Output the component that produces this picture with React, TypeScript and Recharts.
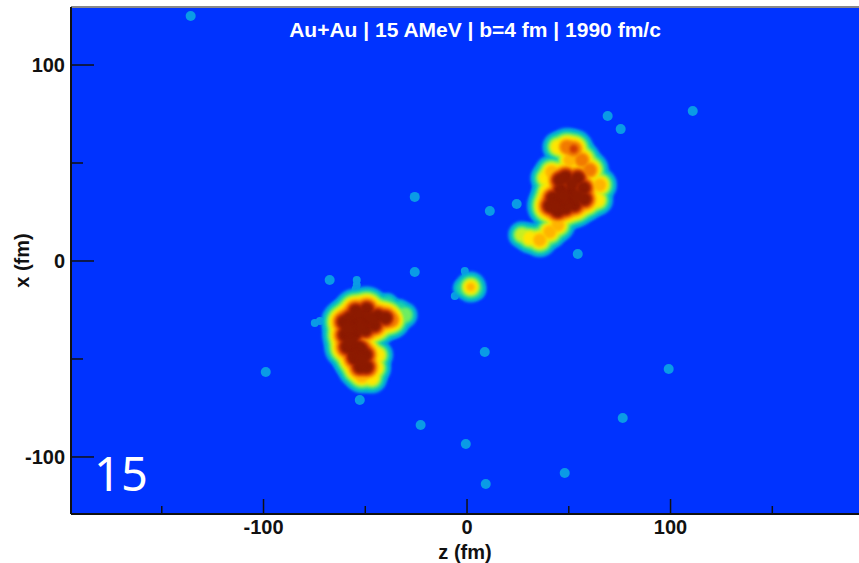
import { ScatterChart, Scatter, XAxis, YAxis, CartesianGrid, ReferenceLine } from 'recharts'

// [z (fm), x (fm), density level]
const lowerCluster = [
  [-54.7, -25.5, 10], [-49.3, -24.5, 10], [-43.9, -28.1, 10], [-40.0, -29.1, 10],
  [-60.6, -31.1, 10], [-60.1, -37.8, 10], [-59.1, -43.9, 10], [-55.2, -49.5, 10],
  [-52.7, -54.1, 10], [-49.3, -54.1, 10], [-49.8, -47.9, 10], [-54.2, -43.9, 10],
  [-55.2, -31.1, 10], [-49.8, -30.6, 10], [-45.4, -32.7, 10], [-54.7, -36.7, 10],
  [-49.8, -35.2, 10], [-57.7, -33.2, 10], [-56.7, -39.3, 10], [-55.7, -46.4, 10],
  [-57.7, -29.1, 10], [-52.7, -27.6, 10], [-47.5, -29.1, 10], [-52.7, -33.7, 10],
  [-58.6, -34.7, 10], [-57.7, -41.3, 10], [-52.2, -44.9, 10], [-54.7, -49.0, 10],
  [-51.7, -50.5, 10], [-37.0, -30.0, 8], [-30.6, -27.6, 4.5], [-33.1, -24.5, 3],
  [-39.0, -21.4, 3], [-43.9, -48.0, 6], [-46.8, -59.7, 6], [-44.9, -54.6, 6],
  [-51.7, -58.7, 7],
]

const upperCluster = [
  [48.5, 42.9, 10], [54.4, 42.3, 10], [57.3, 37.2, 10], [57.8, 31.6, 10],
  [52.9, 28.6, 10], [44.6, 25.5, 10], [40.6, 28.1, 10], [46.0, 36.2, 10],
  [51.0, 35.2, 10], [51.0, 31.1, 10], [44.6, 31.1, 10], [48.5, 27.0, 10],
  [51.5, 39.3, 10], [45.5, 41.3, 10], [54.4, 33.2, 10], [48.0, 28.6, 10],
  [42.1, 32.1, 10], [47.0, 33.2, 10], [43.1, 27.5, 10],
  [52.4, 57.1, 8.5], [49.0, 58.2, 8], [44.6, 58.2, 6], [56.4, 51.5, 8],
  [50.5, 51.5, 7], [60.3, 46.4, 8], [38.7, 42.3, 6], [41.6, 45.4, 7],
  [39.7, 36.2, 6], [65.2, 38.8, 7], [64.2, 31.1, 6], [26.9, 13.3, 5],
  [30.8, 11.7, 6], [35.7, 10.7, 7], [40.6, 14.8, 7], [44.6, 18.4, 7],
]

const centerCluster = [
  [1.8, -13.3, 6], [-2.1, -13.8, 3], [4.3, -14.8, 3],
]

// thin wisps hanging off the clusters
const wisps = [
  [-54.2, -9.7], [-54.2, -12.2], [-54.7, -14.3], [-74.8, -31.6], [-72.3, -30.6],
  [-1.1, -5.1], [-0.6, -7.7], [-0.2, -9.7], [-6.0, -17.9], [-4.1, -15.8],
]

const fragments = [
  [-135.8, 125.0], [69.1, 74.0], [75.5, 67.3], [110.9, 76.5], [-25.7, 32.7],
  [11.2, 25.5], [24.4, 29.1], [54.4, 3.6], [-25.7, -5.6], [-67.5, -9.7],
  [8.7, -46.4], [-98.9, -56.6], [-52.7, -70.9], [-22.8, -83.7], [-0.6, -93.4],
  [9.2, -113.8], [48.0, -108.2], [76.5, -80.1], [99.1, -55.1],
]

// small hot spots: [z, x, level]
const hotSpots = [
  [52.4, 57.1, 9], [1.8, -13.3, 7],
]

const levelColors = [
  '#0a9be6', '#00b6cf', '#1ed3a6', '#6eed62', '#c8f022',
  '#ffe600', '#ffb400', '#f27a00', '#cf3a00', '#8c1a00',
]

const zTicks = [-150, -100, -50, 0, 50, 100, 150]
const xTicks = [-100, -50, 0, 50, 100]

const BG = '#0033ff'
const FONT = '"Liberation Sans", Arial, sans-serif'
const SOFT = { filter: 'blur(1.8px)' }

const points = [...lowerCluster, ...upperCluster, ...centerCluster].map(([z, x, d]) => ({ z, x, d }))
const wispPoints = wisps.map(([z, x]) => ({ z, x }))
const fragmentPoints = fragments.map(([z, x]) => ({ z, x }))
const hotPoints = hotSpots.map(([z, x, d]) => ({ z, x, d }))

const ZTick = ({ x, y, payload }: any) => {
  const major = payload.value % 100 === 0
  return (
    <g>
      <line x1={x} x2={x} y1={y} y2={y - (major ? 15 : 8)} stroke="#111" strokeWidth={1.5} />
      {major && (
        <text x={x} y={y + 20} textAnchor="middle" fontSize={20} fontWeight="bold" fill="#111" fontFamily={FONT}>
          {payload.value}
        </text>
      )}
    </g>
  )
}

const XTick = ({ x, y, payload }: any) => {
  const major = payload.value % 100 === 0
  return (
    <g>
      <line x1={x} x2={x + (major ? 23 : 12)} y1={y} y2={y} stroke="#111" strokeWidth={1.5} />
      {major && (
        <text x={x - 6} y={y + 7} textAnchor="end" fontSize={20} fontWeight="bold" fill="#111" fontFamily={FONT}>
          {payload.value}
        </text>
      )}
    </g>
  )
}

export default function App() {
  return (
    <div style={{ position: 'absolute', left: 0, top: 0, width: 859, height: 563, overflow: 'hidden', background: '#fff' }}>
      <ScatterChart width={859} height={563} margin={{ top: 7, right: 0, bottom: 0, left: 0 }}>
        <CartesianGrid horizontal={false} vertical={false} fill={BG} />
        <Scatter
          data={fragmentPoints}
          isAnimationActive={false}
          shape={(p: any) => <circle cx={p.cx} cy={p.cy} r={5} fill={levelColors[0]} style={{ filter: 'blur(0.5px)' }} />}
        />
        <Scatter
          data={wispPoints}
          isAnimationActive={false}
          shape={(p: any) => <circle cx={p.cx} cy={p.cy} r={4} fill={levelColors[0]} style={{ filter: 'blur(0.5px)' }} />}
        />
        {levelColors.map((color, i) => {
          const level = i + 1
          return (
            <Scatter
              key={level}
              data={points.filter(p => p.d >= level)}
              isAnimationActive={false}
              shape={(p: any) => <circle cx={p.cx} cy={p.cy} r={6.5 + (p.payload.d - level) * 1.8} fill={color} style={SOFT} />}
            />
          )
        })}
        <Scatter
          data={hotPoints}
          isAnimationActive={false}
          shape={(p: any) => <circle cx={p.cx} cy={p.cy} r={4} fill={levelColors[p.payload.d - 1]} style={SOFT} />}
        />
        <XAxis
          type="number"
          dataKey="z"
          domain={[-194.6, 192.6]}
          ticks={zTicks}
          interval={0}
          height={49}
          stroke="#111"
          strokeWidth={2}
          tickLine={false}
          tickSize={0}
          tickMargin={0}
          tick={<ZTick />}
          allowDataOverflow
          label={{ value: 'z (fm)', position: 'insideBottom', offset: 4, fontSize: 20, fontWeight: 'bold', fill: '#111', fontFamily: FONT }}
        />
        <YAxis
          type="number"
          dataKey="x"
          domain={[-129.1, 129.6]}
          ticks={xTicks}
          interval={0}
          width={71}
          stroke="#111"
          strokeWidth={2}
          tickLine={false}
          tickSize={0}
          tickMargin={0}
          tick={<XTick />}
          allowDataOverflow
          label={{ value: 'x (fm)', angle: -90, position: 'insideLeft', offset: 22, fontSize: 20, fontWeight: 'bold', fill: '#111', fontFamily: FONT, style: { textAnchor: 'middle' } }}
        />
        <ReferenceLine y={129.6} stroke="#888" strokeWidth={2} />
      </ScatterChart>
      <div style={{ position: 'absolute', left: 0, top: 19, width: 950, textAlign: 'center', color: '#fff', fontFamily: FONT, fontWeight: 'bold', fontSize: 21, lineHeight: '21px' }}>
        Au+Au | 15 AMeV | b=4 fm | 1990 fm/c
      </div>
      <div style={{ position: 'absolute', left: 94, top: 442, color: '#fff', fontFamily: '"Noto Sans", sans-serif', fontSize: 47, lineHeight: '62px' }}>
        15
      </div>
    </div>
  )
}
